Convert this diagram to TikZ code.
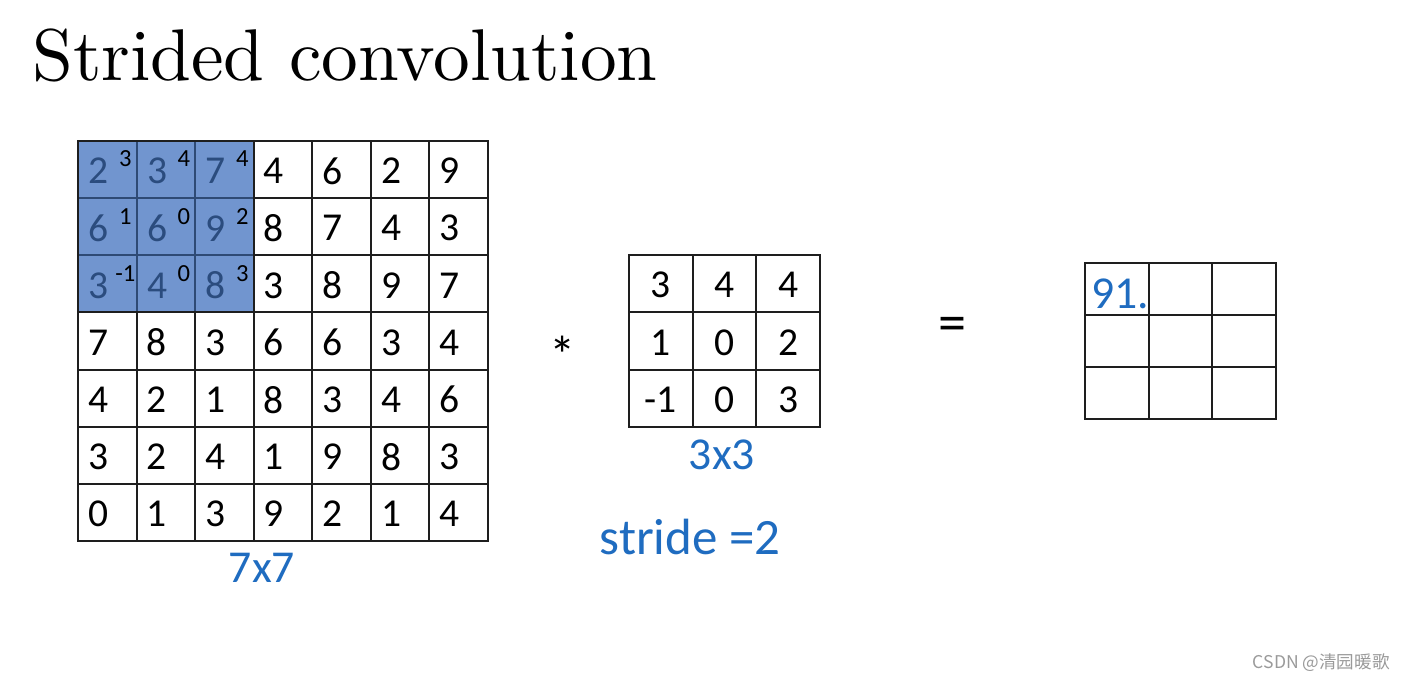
\documentclass[tikz,border=0pt]{standalone}
\usepackage{fontspec}
\newfontfamily\numfont{Carlito}
\newfontfamily\titlefont[Extension=.otf]{lmroman10-regular}
\newfontfamily\cjkfont{Noto Sans CJK SC}
\definecolor{shade}{HTML}{7195CF}
\definecolor{shadeline}{HTML}{2E4A75}
\definecolor{shadetext}{HTML}{2B4C7E}
\definecolor{pen}{HTML}{1F6CC0}
\definecolor{gridline}{HTML}{1E1E1E}
\definecolor{wm}{HTML}{9A9A9A}
\tikzset{
  cellA/.style={draw=gridline, line width=1.1pt, minimum width=1.1714cm, minimum height=1.1429cm, inner sep=0pt, outer sep=0pt},
  cellB/.style={draw=gridline, line width=1.1pt, minimum width=1.2733cm, minimum height=1.1467cm, inner sep=0pt, outer sep=0pt},
  cellC/.style={draw=gridline, line width=1.1pt, minimum width=1.2733cm, minimum height=1.04cm, inner sep=0pt, outer sep=0pt},
  digit/.style={font=\numfont\fontsize{22.5}{26}\selectfont, inner sep=0pt},
  supdigit/.style={font=\numfont\fontsize{14}{16}\selectfont, inner sep=0pt},
  hand/.style={font=\numfont\fontsize{26}{30}\selectfont, text=pen, inner sep=0pt},
}
\begin{document}
\begin{tikzpicture}[x=0.02cm,y=-0.02cm]
\useasboundingbox (0,0) rectangle (1405,681);
% title
\node[anchor=base west, inner sep=0pt, font=\titlefont\fontsize{41.7}{48}\selectfont] (title) at (32,80) {Strided convolution};
% 7x7 input
\foreach \row [count=\r] in {{2,3,7,4,6,2,9},{6,6,9,8,7,4,3},{3,4,8,3,8,9,7},{7,8,3,6,6,3,4},{4,2,1,8,3,4,6},{3,2,4,1,9,8,3},{0,1,3,9,2,1,4}}{
  \foreach \v [count=\c] in \row {
    \pgfmathtruncatemacro\sh{and(\r<4,\c<4)}
    \ifnum\sh=1
      \node[cellA, fill=shade, draw=shadeline] (a-\r-\c) at ({78+(\c-0.5)*58.57},{141+(\r-0.5)*57.14}) {};
      \node[digit, text=shadetext] (d-\r-\c) at ([xshift=-0.17cm, yshift=-0.03cm]a-\r-\c.center) {\v};
    \else
      \node[cellA] (a-\r-\c) at ({78+(\c-0.5)*58.57},{141+(\r-0.5)*57.14}) {};
      \node[digit] (d-\r-\c) at ([xshift=-0.18cm, yshift=-0.03cm]a-\r-\c.center) {\v};
    \fi
  }
}
\draw[gridline, line width=1.1pt] (a-1-1.north west) rectangle (a-7-7.south east);
% superscript filter values in shaded region
\foreach \row [count=\r] in {{3,4,4},{1,0,2},{-1,0,3}}{
  \foreach \v [count=\c] in \row {
    \node[supdigit] (s-\r-\c) at ([xshift=0.36cm, yshift=0.21cm]a-\r-\c.center) {\v};
  }
}
% filter 3x3
\foreach \row [count=\r] in {{3,4,4},{1,0,2},{-1,0,3}}{
  \foreach \v [count=\c] in \row {
    \node[cellB] (f-\r-\c) at ({629+(\c-0.5)*63.67},{255+(\r-0.5)*57.33}) {};
    \node[digit] (fd-\r-\c) at ([yshift=-0.03cm]f-\r-\c.center) {\v};
  }
}
% output 3x3
\foreach \r in {1,2,3}{
  \foreach \c in {1,2,3}{
    \node[cellC] (o-\r-\c) at ({1085+(\c-0.5)*63.67},{263+(\r-0.5)*52}) {};
  }
}
% operators
\node[inner sep=0pt, font=\numfont\fontsize{30}{34}\selectfont] (star) at (563,355) {*};
\node[inner sep=0pt, font=\numfont\fontsize{32}{36}\selectfont] (eq) at (952,329) {=};
% handwritten labels
\node[hand] (l77) at (262,568) {7x7};
\node[hand] (l33) at (722,455) {3x3};
\node[hand, font=\numfont\fontsize{29}{32}\selectfont] (lstride) at (690,537) {stride =2};
\node[hand, anchor=west] (v91) at (1091,294) {91.};
% watermark
\node[anchor=east, inner sep=0pt, text=wm, font=\cjkfont\fontsize{10}{12}\selectfont] (wmk) at (1390,663) {CSDN @清园暖歌};
\end{tikzpicture}
\end{document}
